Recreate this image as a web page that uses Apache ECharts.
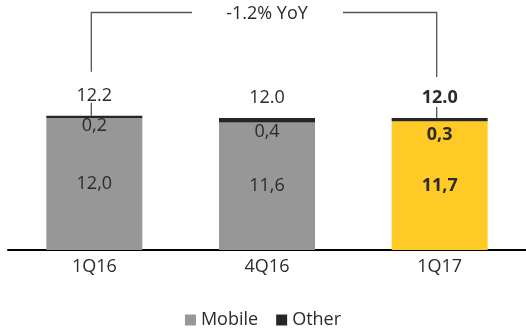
<!DOCTYPE html>
<html>
<head>
<meta charset="utf-8">
<script src="https://cdn.jsdelivr.net/npm/echarts@6/dist/echarts.min.js"></script>
<style>
  html, body { margin: 0; padding: 0; background: #fff; }
  #chart { width: 526px; height: 331px; }
</style>
</head>
<body>
<div id="chart"></div>
<script>
var categories = ['1Q16', '4Q16', '1Q17']
var mobileValues = [12.0, 11.6, 11.7]
var otherValues = [0.2, 0.4, 0.3]
var totalValues = [12.2, 12.0, 12.0]
var yoyLabel = '-1.2% YoY'

var GRAY = '#979797'
var DARK = '#262626'
var YELLOW = '#FFC926'
var TEXT = '#2b2b2b'
var FONT = 'Open Sans'
var FS = 18

// comma decimals for the segment labels
function comma(v) {
    return v.toFixed(1).replace('.', ',')
}

function initChart() {
    var myChart = echarts.init(document.getElementById('chart'))
    var last = categories.length - 1
    // push the small "other" labels down inside the bar
    var otherOffsets = [-1, 0, 5]

    var option = {
        animation: false,
        textStyle: { fontFamily: FONT },
        grid: { left: 8, right: 0, top: 30, bottom: 81 },
        legend: {
            data: ['Mobile', 'Other'],
            bottom: -3,
            left: 'center',
            icon: 'rect',
            itemWidth: 11,
            itemHeight: 11,
            itemGap: 18,
            textStyle: { fontFamily: FONT, fontSize: FS, color: TEXT }
        },
        xAxis: {
            type: 'category',
            data: categories,
            axisTick: { show: false },
            axisLine: { lineStyle: { color: '#000', width: 2 } },
            axisLabel: { fontFamily: FONT, fontSize: FS, color: TEXT, margin: 8 }
        },
        yAxis: {
            type: 'value',
            min: 0,
            max: 20,
            show: false
        },
        series: [{
                name: 'Mobile',
                type: 'bar',
                stack: 'total',
                barWidth: 96,
                itemStyle: { color: GRAY },
                data: mobileValues.map(function(v, i) {
                    return {
                        value: v,
                        itemStyle: { color: i === last ? YELLOW : GRAY },
                        label: { fontWeight: i === last ? 'bold' : 'normal' }
                    }
                }),
                label: {
                    show: true,
                    position: 'inside',
                    fontFamily: FONT,
                    fontSize: FS,
                    color: TEXT,
                    formatter: function(p) { return comma(p.value) }
                }
            },
            {
                name: 'Other',
                type: 'bar',
                stack: 'total',
                barWidth: 96,
                itemStyle: { color: DARK },
                data: otherValues.map(function(v, i) {
                    return {
                        value: v,
                        label: {
                            fontWeight: i === last ? 'bold' : 'normal',
                            offset: [0, otherOffsets[i]]
                        }
                    }
                }),
                label: {
                    show: true,
                    position: 'bottom',
                    distance: 0,
                    fontFamily: FONT,
                    fontSize: FS,
                    color: TEXT,
                    formatter: function(p) { return comma(p.value) }
                }
            },
            {
                // zero-height series used only for the total labels
                name: 'Total',
                type: 'bar',
                stack: 'total',
                barWidth: 96,
                silent: true,
                itemStyle: { color: 'rgba(0,0,0,0)' },
                data: totalValues.map(function(v, i) {
                    return {
                        value: 0,
                        label: { fontWeight: i === last ? 'bold' : 'normal' }
                    }
                }),
                label: {
                    show: true,
                    position: 'top',
                    distance: 11,
                    fontFamily: FONT,
                    fontSize: FS,
                    color: TEXT,
                    formatter: function(p) { return totalValues[p.dataIndex].toFixed(1) }
                }
            }
        ]
    }
    myChart.setOption(option)

    // yoy bracket between first and last bar
    var p0 = myChart.convertToPixel({ seriesIndex: 0 }, [0, totalValues[0]])
    var p2 = myChart.convertToPixel({ seriesIndex: 0 }, [last, totalValues[last]])
    var pm = myChart.convertToPixel({ seriesIndex: 0 }, [1, 0])
    var lx = p0[0] - 3, rx = p2[0] - 3, topY = 12.5
    var lineStyle = { stroke: '#555', lineWidth: 1.3, fill: null }
    myChart.setOption({
        graphic: [
            { type: 'polyline', shape: { points: [[lx, p0[1] - 44], [lx, topY], [pm[0] - 75, topY]] }, style: lineStyle },
            { type: 'polyline', shape: { points: [[pm[0] + 76, topY], [rx, topY], [rx, p2[1] - 41]] }, style: lineStyle },
            { type: 'line', shape: { x1: lx, y1: p0[1] - 13, x2: lx, y2: p0[1] }, style: lineStyle },
            { type: 'line', shape: { x1: rx, y1: p2[1] - 11, x2: rx, y2: p2[1] }, style: lineStyle },
            {
                type: 'text',
                x: pm[0],
                y: topY + 1,
                style: {
                    text: yoyLabel,
                    fontFamily: FONT,
                    fontSize: FS,
                    fill: TEXT,
                    align: 'center',
                    verticalAlign: 'middle'
                }
            }
        ]
    })
}

initChart()
</script>
</body>
</html>
